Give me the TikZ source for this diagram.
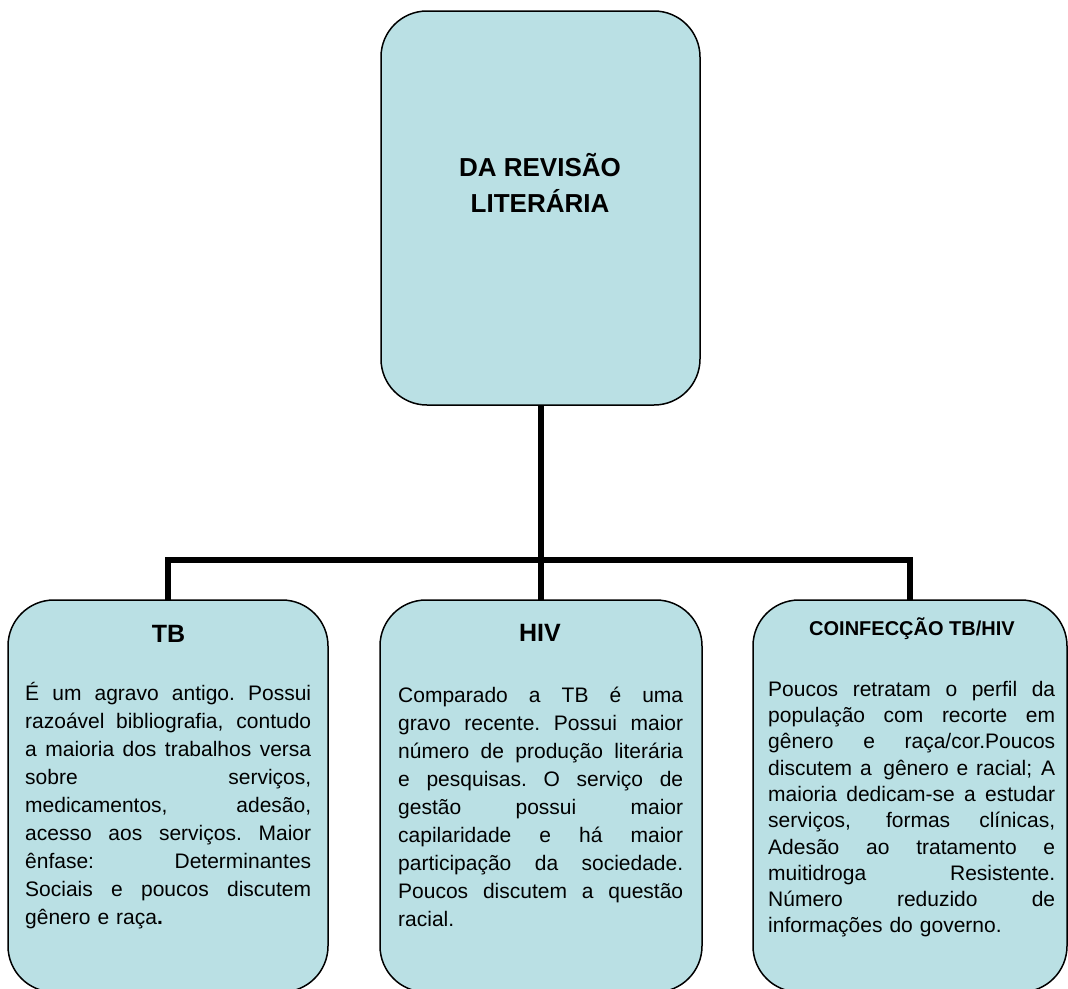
\documentclass[tikz,border=0pt]{standalone}
\usepackage{fontspec}
\setmainfont{Liberation Sans}
\definecolor{boxfill}{RGB}{186,224,228}
\newlength{\bodyw}
\newcommand{\jline}[1]{\hbox to \bodyw{\spaceskip=0.278em plus 1fil\relax\xspaceskip=\spaceskip #1}}
\tikzset{
  card/.style={draw=black, line width=1.5pt, fill=boxfill, rounded corners=46pt,
               inner sep=0pt, outer sep=0pt},
  conn/.style={draw=black, line width=6pt, line join=miter},
  ttl/.style={inner sep=0pt, font=\bfseries\fontsize{25}{30}\selectfont},
  body/.style={inner sep=0pt, anchor=north west, align=left,
               font=\fontsize{21}{28}\selectfont}
}
\begin{document}
\begin{tikzpicture}[x=1pt,y=-1pt]
\useasboundingbox (0,0) rectangle (1068,988);
% boxes
\node[card, minimum width=319pt, minimum height=394pt] (top) at (540.5,208) {};
\node[card, minimum width=320pt, minimum height=392pt] (tb) at (168,796) {};
\node[card, minimum width=322pt, minimum height=392pt] (hiv) at (541,796) {};
\node[card, minimum width=314pt, minimum height=392pt] (co) at (910,796) {};
% connectors
\coordinate (bus) at (540,560);
\draw[conn] (top.south) -- (top.south |- hiv.north);
\draw[conn] (tb.north) -- (tb.north |- bus) -- (co.north |- bus) -- (co.north);
% titles
\node[inner sep=0pt, anchor=south, align=center,
      font=\bfseries\fontsize{26}{36}\selectfont] (toptitle) at (540,213)
      {DA REVISÃO\\LITERÁRIA};
\node[ttl, anchor=base] (tbtitle) at (168.5,642) {TB};
\node[ttl, anchor=base] (hivtitle) at (540,641) {HIV};
\node[inner sep=0pt, anchor=base, font=\bfseries\fontsize{20}{24}\selectfont] (cotitle) at (912,635) {COINFECÇÃO TB/HIV};
% bodies
\node[body, text width=286pt] (tbbody) at (25,680) {\setlength{\bodyw}{286pt}\rule{0pt}{20pt}%
\jline{É um agravo antigo. Possui}
\jline{razoável bibliografia, contudo}
\jline{a maioria dos trabalhos versa}
\jline{sobre serviços,}
\jline{medicamentos, adesão,}
\jline{acesso aos serviços. Maior}
\jline{ênfase: Determinantes}
\jline{Sociais e poucos discutem}
\hbox{gênero e raça\textbf{.}}};
\node[body, text width=285pt] (hivbody) at (398,682) {\setlength{\bodyw}{285pt}\rule{0pt}{20pt}%
\jline{Comparado a TB é uma}
\jline{gravo recente. Possui maior}
\jline{número de produção literária}
\jline{e pesquisas. O serviço de}
\jline{gestão possui maior}
\jline{capilaridade e há maior}
\jline{participação da sociedade.}
\jline{Poucos discutem a questão}
\hbox{racial.}};
\node[body, text width=287pt, font=\fontsize{21}{26.3}\selectfont] (cobody) at (768,676) {\setlength{\bodyw}{287pt}\rule{0pt}{20pt}%
\jline{Poucos retratam o perfil da}
\jline{população com recorte em}
\jline{gênero e raça/cor.Poucos}
\jline{discutem a\hspace{0.55em}gênero e racial; A}
\jline{maioria dedicam-se a estudar}
\jline{serviços, formas clínicas,}
\jline{Adesão ao tratamento e}
\jline{muitidroga Resistente.}
\jline{Número reduzido de}
\hbox{informações do governo.}};
\end{tikzpicture}
\end{document}
